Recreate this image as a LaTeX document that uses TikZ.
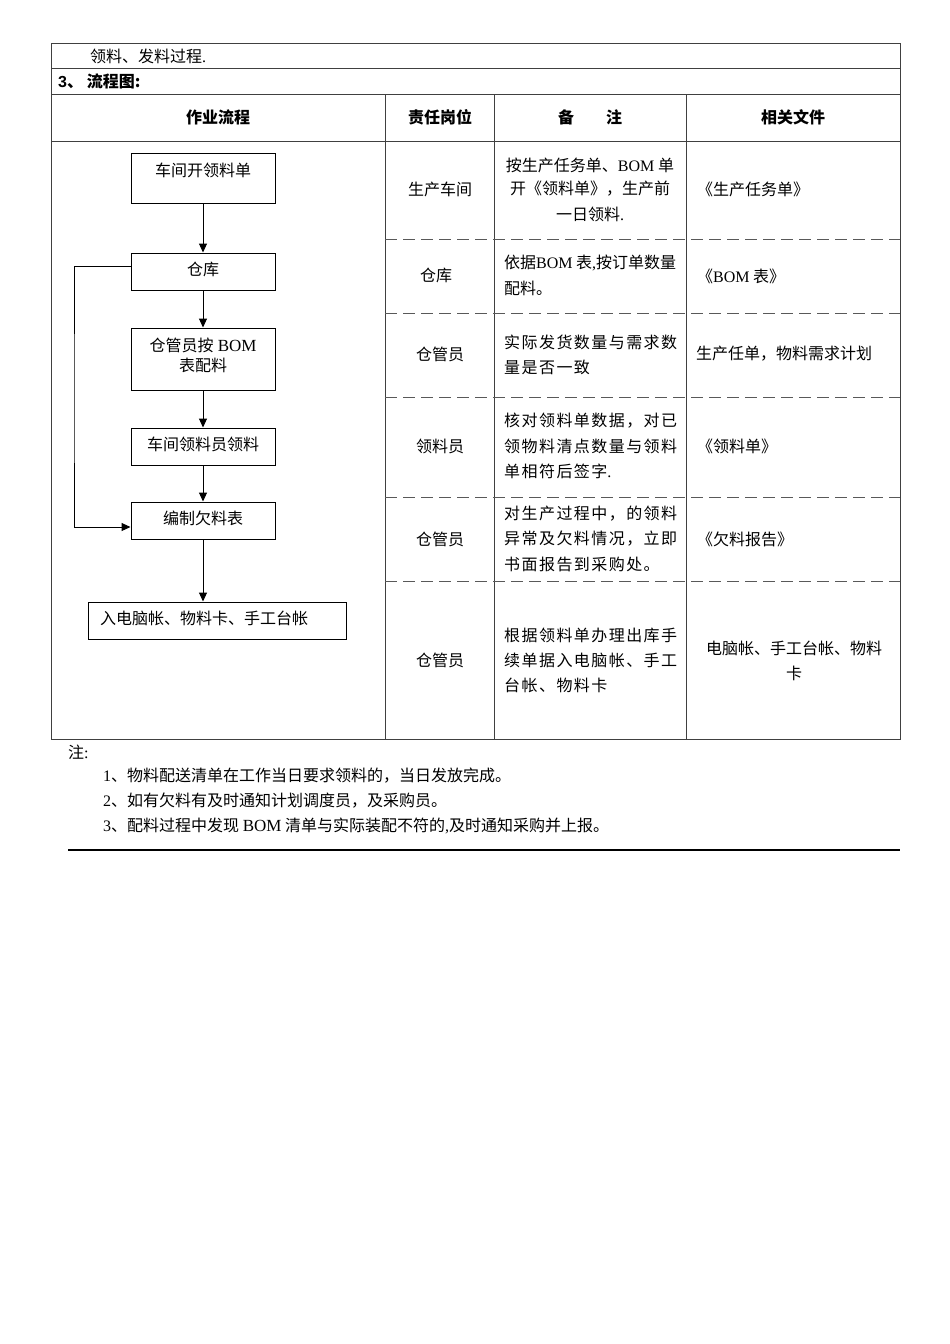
\documentclass[tikz,border=0pt]{standalone}
\usepackage{fontspec}
\setmainfont{Liberation Serif}
\newfontfamily\cjk{Noto Sans CJK SC}
\newfontfamily\cjkls{Noto Sans CJK SC}[LetterSpace=9]
\newfontfamily\lsans{Liberation Sans}
\newfontfamily\lat{Liberation Serif}
\usetikzlibrary{arrows.meta}
\tikzset{
  tline/.style={draw=black!75, line width=1pt},
  dline/.style={draw=black!65, line width=1pt, dash pattern=on 12pt off 6pt},
  fbox/.style={draw=black, line width=1pt, minimum width=144pt, inner sep=0pt},
  flow/.style={draw=black, line width=1pt, -{Triangle[width=8pt,length=9pt]}},
  txt/.style={inner sep=0pt, font=\fontsize{16}{25}\cjk},
  lstxt/.style={inner sep=0pt, font=\fontsize{16}{25}\cjkls},
  hdr/.style={inner sep=0pt, font=\fontsize{16}{20}\cjk\bfseries},
}
\begin{document}
\begin{tikzpicture}[x=1pt,y=-1pt]
\useasboundingbox (0,0) rectangle (950,1344);
\fill[white] (0,0) rectangle (950,1344);
% table frame
\draw[tline] (51,43) rectangle (900,739);
\draw[tline] (51,68) -- (900,68);
\draw[tline] (51,94) -- (900,94);
\draw[tline] (51,141) -- (900,141);
\foreach \x in {385,494,686} \draw[tline] (\x,94) -- (\x,739);
\foreach \y in {239,313,397,497,581} \draw[dline] (385,\y) -- (900,\y);
% top rows
\node[txt, anchor=west] (r1) at (90,56) {领料、发料过程{\lat .}};
\node[hdr, anchor=west] (r2) at (58,81) {{\lsans\bfseries 3}、 流程图:};
\node[hdr] (h1) at (218,117) {作业流程};
\node[hdr] (h2) at (440,117) {责任岗位};
\node[hdr] (h3) at (590,117) {备\hspace{2em}注};
\node[hdr] (h4) at (793,117) {相关文件};
% flowchart
\node[fbox, minimum height=50pt] (b1) at (203,178) {};
\node[txt] (t1) at (203,170) {车间开领料单};
\node[fbox, minimum height=37pt] (b2) at (203,271.5) {};
\node[txt] (t2) at (203,269) {仓库};
\node[fbox, minimum height=62pt] (b3) at (203,359) {};
\node[txt, align=center, font=\fontsize{16}{20}\cjk] (t3) at (203,355) {仓管员按{\lat\fontsize{17}{20}\selectfont\ BOM}\\表配料};
\node[fbox, minimum height=37pt] (b4) at (203,446.5) {};
\node[txt] (t4) at (203,444) {车间领料员领料};
\node[fbox, minimum height=37pt] (b5) at (203,520.5) {};
\node[txt] (t5) at (203,518) {编制欠料表};
\node[fbox, minimum width=258pt, minimum height=37pt] (b6) at (217,620.5) {};
\node[txt, anchor=west] (t6) at (100,618) {入电脑帐、物料卡、手工台帐};
\draw[flow] (b1.south) -- (b2.north);
\draw[flow] (b2.south) -- (b3.north);
\draw[flow] (b3.south) -- (b4.north);
\draw[flow] (b4.south) -- (b5.north);
\draw[flow] (b5.south) -- (b6.north -| b5.south);
\coordinate (loopx) at (74,400);
\draw[flow] ([yshift=5.5pt]b2.west) -| (loopx) |- ([yshift=-6.5pt]b5.west);
% row A
\node[txt] (a2) at (440,189) {生产车间};
\node[txt] (a3a) at (590,165) {按生产任务单、{\lat BOM} 单};
\node[txt] (a3b) at (590,189) {开《领料单》，生产前};
\node[txt] (a3c) at (590,214) {一日领料{\lat .}};
\node[txt, anchor=west] (a4) at (697,189) {《生产任务单》};
% row B
\node[txt] (bb2) at (436,275) {仓库};
\node[txt, anchor=west] (bb3a) at (504,263) {依据{\lat BOM} 表{\lat ,}按订单数量};
\node[txt, anchor=west] (bb3b) at (504,288) {配料。};
\node[txt, anchor=west] (bb4) at (697,276) {《{\lat BOM} 表》};
% row C
\node[txt] (c2) at (440,354) {仓管员};
\node[lstxt, anchor=west] (c3a) at (504,342) {实际发货数量与需求数};
\node[lstxt, anchor=west] (c3b) at (504,367) {量是否一致};
\node[txt, anchor=west] (c4) at (696,354) {生产任单，物料需求计划};
% row D
\node[txt] (d2) at (440,446) {领料员};
\node[lstxt, anchor=west] (d3a) at (504,421) {核对领料单数据，对已};
\node[lstxt, anchor=west] (d3b) at (504,446) {领物料清点数量与领料};
\node[lstxt, anchor=west] (d3c) at (504,471) {单相符后签字{\lat .}};
\node[txt, anchor=west] (d4) at (697,446) {《领料单》};
% row E
\node[txt] (e2) at (440,539) {仓管员};
\node[lstxt, anchor=west] (e3a) at (504,514) {对生产过程中，的领料};
\node[lstxt, anchor=west] (e3b) at (504,539) {异常及欠料情况，立即};
\node[lstxt, anchor=west] (e3c) at (504,564) {书面报告到采购处。};
\node[txt, anchor=west] (e4) at (697,539) {《欠料报告》};
% row F
\node[txt] (f2) at (440,660) {仓管员};
\node[lstxt, anchor=west] (f3a) at (504,635) {根据领料单办理出库手};
\node[lstxt, anchor=west] (f3b) at (504,660) {续单据入电脑帐、手工};
\node[lstxt, anchor=west] (f3c) at (504,685) {台帐、物料卡};
\node[txt] (f4a) at (794,648) {电脑帐、手工台帐、物料};
\node[txt] (f4b) at (794,673) {卡};
% notes
\node[txt, anchor=west] (n0) at (68,752) {注{\lat :}};
\node[txt, anchor=west] (n1) at (103,776) {{\lat 1}、物料配送清单在工作当日要求领料的，当日发放完成。};
\node[txt, anchor=west] (n2) at (103,801) {{\lat 2}、如有欠料有及时通知计划调度员，及采购员。};
\node[txt, anchor=west] (n3) at (103,826) {{\lat 3}、配料过程中发现 {\lat\fontsize{17}{20}\selectfont BOM} 清单与实际装配不符的{\lat ,}及时通知采购并上报。};
\draw[black, line width=2pt] (68,850) -- (900,850);
\end{tikzpicture}
\end{document}
